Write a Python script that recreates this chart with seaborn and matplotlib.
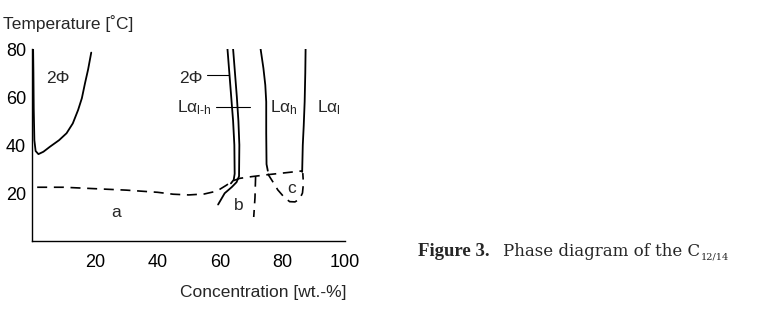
import matplotlib
matplotlib.use("Agg")
import matplotlib.pyplot as plt
from matplotlib import font_manager
import seaborn as sns
import pandas as pd

# ---- data ----
left2phi_x = [0.2, 0.3, 0.4, 0.6, 1.0, 1.9, 3.5, 5.6, 8.5, 10.9, 12.9, 14.6, 15.8, 16.8, 17.8, 18.8]
left2phi_y = [80, 70, 55, 42, 37.5, 36.2, 37.2, 39.3, 42, 44.9, 49, 54.6, 59.5, 65.7, 71.5, 78.5]

lineA_x = [62.4, 63.0, 63.6, 64.2, 64.6, 64.7, 64.4, 63.5]
lineA_y = [80, 70, 60, 50, 40, 28, 25.5, 24]

lineB_x = [64.2, 64.8, 65.4, 65.9, 66.2, 66.1, 65.3, 63.8, 61.5, 59.4]
lineB_y = [80, 70, 60, 50, 40, 27, 24.5, 22.5, 19.9, 15.2]

lineC_x = [73.0, 73.9, 74.5, 74.8, 74.8, 74.9, 75.3]
lineC_y = [80, 72, 65, 58, 45, 32, 29.3]

lineD_x = [87.4, 87.3, 87.1, 86.8, 86.5, 86.3]
lineD_y = [80, 70, 58, 48, 40, 28.8]

dashMain_x = [1.5, 10, 20, 30, 40, 45, 50, 55, 58, 60, 62, 64, 66.3, 70, 75, 80, 86.3]
dashMain_y = [22.4, 22.4, 21.8, 21.2, 20.3, 19.5, 19.2, 19.6, 20.5, 21.6, 23.2, 25.0, 26.1, 26.8, 27.6, 28.3, 29.2]

dashVert_x = [71.4, 71.2, 70.8]
dashVert_y = [26.8, 18, 10.0]

dashC_x = [75.3, 77, 78.5, 80.5, 82.3, 84.0, 85.5, 86.4, 86.7, 86.5]
dashC_y = [28.0, 24.5, 21.3, 18.3, 16.4, 16.3, 17.5, 20, 24, 28.3]

x_ticks = [20, 40, 60, 80, 100]
y_ticks = [20, 40, 60, 80]

# ---- style ----
sns.set_style("white")
names = {f.name for f in font_manager.fontManager.ttflist}
sans = "Liberation Sans Narrow" if "Liberation Sans Narrow" in names else "Liberation Sans"
plt.rcParams["font.family"] = [sans, "DejaVu Sans"]
plt.rcParams["mathtext.fontset"] = "custom"
plt.rcParams["mathtext.rm"] = sans
plt.rcParams["mathtext.it"] = sans
plt.rcParams["mathtext.bf"] = sans
FS = 14.5 if sans.endswith("Narrow") else 12.5

fig = plt.figure(figsize=(7.81, 3.28), dpi=100)
ax = fig.add_axes([0.0416, 0.2652, 0.4001, 0.5854])

solid = [(left2phi_x, left2phi_y), (lineA_x, lineA_y), (lineB_x, lineB_y),
         (lineC_x, lineC_y), (lineD_x, lineD_y)]
for xs, ys in solid:
    df = pd.DataFrame({"x": xs, "y": ys})
    sns.lineplot(data=df, x="x", y="y", sort=False, estimator=None, color="black",
                 linewidth=1.3, ax=ax)

dashed = [(dashMain_x, dashMain_y), (dashVert_x, dashVert_y), (dashC_x, dashC_y)]
for xs, ys in dashed:
    df = pd.DataFrame({"x": xs, "y": ys})
    sns.lineplot(data=df, x="x", y="y", sort=False, estimator=None, color="black",
                 linewidth=1.2, ax=ax)
    ax.lines[-1].set_dashes((6, 4))

# leader lines
ax.plot([55.8, 62.9], [69.2, 69.2], color="black", linewidth=0.8)
ax.plot([58.8, 69.6], [55.7, 55.7], color="black", linewidth=0.8)

ax.set_xlim(0, 100)
ax.set_ylim(0, 80)
ax.set_xticks(x_ticks)
ax.set_yticks(y_ticks)
ax.set_xlabel("")
ax.set_ylabel("")
for s in ["top", "right"]:
    ax.spines[s].set_visible(False)
for s in ["left", "bottom"]:
    ax.spines[s].set_color("black")
    ax.spines[s].set_linewidth(1.0)
ax.tick_params(axis="x", direction="in", length=3.5, width=1.0, pad=9, labelsize=FS + 0.5, colors="black")
ax.tick_params(axis="y", direction="out", length=3.5, width=1.0, pad=1, labelsize=FS + 0.5, colors="black")
ax.patch.set_alpha(0)

# region labels
ax.text(8.1, 66, "2Φ", fontsize=FS, ha="center", va="baseline")
ax.text(50.7, 66, "2Φ", fontsize=FS, ha="center", va="baseline")
ax.text(46.1, 53.5, r"$\mathrm{L\alpha}_{\mathrm{l\text{-}h}}$", fontsize=FS, ha="left", va="baseline")
ax.text(76.0, 53.5, r"$\mathrm{L\alpha}_{\mathrm{h}}$", fontsize=FS, ha="left", va="baseline")
ax.text(90.9, 53.5, r"$\mathrm{L\alpha}_{\mathrm{l}}$", fontsize=FS, ha="left", va="baseline")
ax.text(26.9, 10, "a", fontsize=FS, ha="center", va="baseline")
ax.text(65.9, 12.9, "b", fontsize=FS, ha="center", va="baseline")
ax.text(82.9, 20, "c", fontsize=FS, ha="center", va="baseline")

# axis titles
fig.text(0.0038, 0.9106, "Temperature [˚C]", fontsize=FS, ha="left", va="baseline")
fig.text(0.444, 0.0955, "Concentration [wt.-%]", fontsize=FS, ha="right", va="baseline")

# caption
fig.canvas.draw()
r = fig.canvas.get_renderer()
W, H = fig.bbox.width, fig.bbox.height
base = 1 - 256 / 328
fig.text(418 / W, base, "Figure 3.", fontsize=13.5, fontweight="bold",
         family=["Liberation Serif", "DejaVu Serif"], ha="left", va="baseline")
t2 = fig.text(503 / W, base, "Phase diagram of the C", fontsize=12,
              family=["DejaVu Serif"], ha="left", va="baseline")
bb2 = t2.get_window_extent(r)
fig.text((bb2.x1 + 1) / W, base - 4 / H, "12/14", fontsize=7,
         family=["DejaVu Serif"], ha="left", va="baseline")

fig.savefig("out.png", dpi=100)
